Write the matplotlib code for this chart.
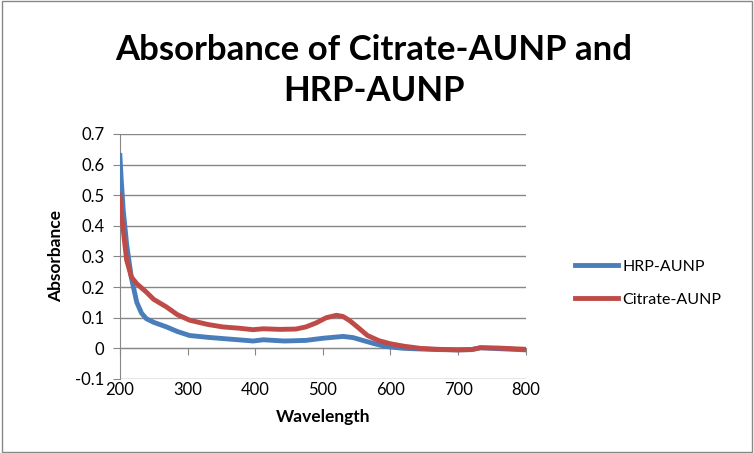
import matplotlib.pyplot as plt
from matplotlib.patches import Rectangle

# values
wl_hrp = [200, 202, 205, 210, 217, 225, 232, 239, 250, 269, 285, 303, 330, 352, 375, 397, 412, 443,
          475, 500, 530, 545, 559, 575, 593, 620, 644, 670, 698, 720, 733, 760, 800]
abs_hrp = [0.63, 0.55, 0.45, 0.34, 0.23, 0.15, 0.115, 0.097, 0.085, 0.07, 0.055, 0.042, 0.036, 0.032, 0.028,
           0.024, 0.028, 0.024, 0.026, 0.033, 0.039, 0.035, 0.026, 0.016, 0.006, 0.0, -0.002, -0.004,
           -0.005, -0.004, 0.002, -0.001, -0.005]

wl_cit = [200, 202, 205, 210, 217, 225, 239, 250, 269, 285, 303, 330, 352, 375, 397, 412, 436, 460,
          475, 490, 505, 520, 530, 540, 550, 566, 583, 600, 620, 644, 670, 698, 720, 733, 760, 800]
abs_cit = [0.50, 0.44, 0.386, 0.288, 0.233, 0.211, 0.184, 0.16, 0.135, 0.11, 0.092, 0.078, 0.07, 0.066,
           0.061, 0.064, 0.062, 0.063, 0.07, 0.083, 0.1, 0.108, 0.104, 0.09, 0.072, 0.042, 0.025, 0.015,
           0.007, 0.0, -0.003, -0.005, -0.004, 0.002, 0.001, -0.003]

xticks = [200, 300, 400, 500, 600, 700, 800]
yticks = [-0.1, 0, 0.1, 0.2, 0.3, 0.4, 0.5, 0.6, 0.7]

plt.rcParams['font.family'] = ['Lato', 'DejaVu Sans']

fig = plt.figure(figsize=(7.54, 4.53), dpi=100)
fig.patches.append(Rectangle((0.002, 0.002), 0.996, 0.996, transform=fig.transFigure,
                             fill=False, edgecolor='#888888', linewidth=1))
ax = fig.add_axes([0.159, 0.1634, 0.5383, 0.5408])

grid_col = '#878787'
ax.plot(wl_hrp, abs_hrp, color='#4A7EBB', linewidth=3.5, label='HRP-AUNP', zorder=3,
        solid_joinstyle='round')
ax.plot(wl_cit, abs_cit, color='#BE4B48', linewidth=3.5, label='Citrate-AUNP', zorder=3,
        solid_joinstyle='round')

ax.set_xlim(200, 800)
ax.set_ylim(-0.1, 0.7)
ax.set_xticks(xticks)
ax.set_yticks(yticks)
ax.set_yticklabels(['-0.1', '0', '0.1', '0.2', '0.3', '0.4', '0.5', '0.6', '0.7'])
ax.grid(axis='y', color=grid_col, linewidth=1)
ax.set_axisbelow(True)

for s in ['top', 'right', 'bottom']:
    ax.spines[s].set_visible(False)
ax.spines['left'].set_color(grid_col)
ax.tick_params(axis='y', direction='out', length=5, color=grid_col, labelsize=12, pad=6)
ax.tick_params(axis='x', length=0, labelsize=12, pad=2)

# horizontal axis line sits at zero
sec = ax.secondary_xaxis(0.125)
sec.set_xticks(xticks)
sec.tick_params(axis='x', direction='out', length=5, color=grid_col, labelbottom=False)
sec.spines['bottom'].set_color(grid_col)

ax.set_xlabel('Wavelength', fontsize=12.5, fontweight='bold', labelpad=8)
ax.set_ylabel('Absorbance', fontsize=12.5, fontweight='bold', labelpad=8)

fig.suptitle('Absorbance of Citrate-AUNP and\nHRP-AUNP', x=0.496, y=0.925,
             fontsize=25, fontweight='bold', linespacing=1.33)

ax.legend(loc='upper left', bbox_to_anchor=(1.085, 0.545), frameon=False, fontsize=11.5,
          handlelength=2.7, labelspacing=1.15, handletextpad=0.3)

fig.savefig('out.png', dpi=100)
